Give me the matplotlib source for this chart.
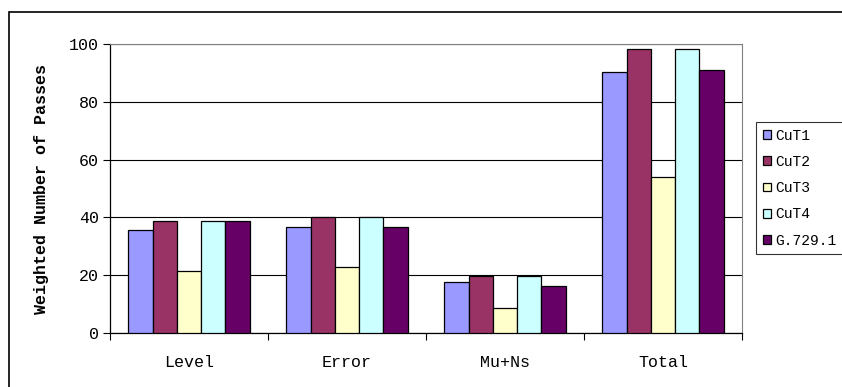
import numpy as np
import matplotlib
matplotlib.use("Agg")
import matplotlib.pyplot as plt
from matplotlib.patches import Rectangle

plt.rcParams["font.family"] = ["Liberation Mono", "DejaVu Sans Mono"]

categories = ["Level", "Error", "Mu+Ns", "Total"]
series_names = ["CuT1", "CuT2", "CuT3", "CuT4", "G.729.1"]
cut1 = [35.6, 36.6, 17.8, 90.2]
cut2 = [38.7, 40.0, 19.8, 98.3]
cut3 = [21.6, 23.0, 8.8, 54.1]
cut4 = [38.7, 40.0, 19.8, 98.3]
g7291 = [38.7, 36.6, 16.3, 91.1]
colors = ["#9999FF", "#993366", "#FFFFCC", "#CCFFFF", "#660066"]

values = [cut1, cut2, cut3, cut4, g7291]

fig = plt.figure(figsize=(8.42, 3.87), dpi=100)
# outer chart border
fig.patches.append(Rectangle((9 / 842, -0.1), 1.2, 1 - 12 / 387 + 0.1,
                             transform=fig.transFigure, fill=False,
                             edgecolor="black", linewidth=1.2))

ax = fig.add_axes([110 / 842, 1 - 333 / 387, 632 / 842, 289 / 387])

n = len(series_names)
bar_w = 1 / (n + 1.5)
x = np.arange(len(categories))
for i, (name, vals) in enumerate(zip(series_names, values)):
    offs = (i - (n - 1) / 2) * bar_w
    ax.bar(x + offs, vals, width=bar_w, color=colors[i], edgecolor="black",
           linewidth=0.9, label=name, zorder=3)

ax.set_xlim(-0.5, len(categories) - 0.5)
ax.set_ylim(0, 100)
ax.set_yticks(range(0, 101, 20))
ax.yaxis.grid(True, color="black", linewidth=0.8, zorder=0)

ax.set_xticks(x)
ax.set_xticklabels(categories, fontsize=12)
ax.set_xticks(np.arange(-0.5, len(categories)), minor=True)
ax.tick_params(axis="x", which="major", length=0, pad=16)
ax.tick_params(axis="x", which="minor", length=5, width=0.8, direction="out")
ax.tick_params(axis="y", length=5, width=0.8, labelsize=12, pad=3)

ax.spines["top"].set_color("#808080")
ax.spines["right"].set_color("#808080")
for s in ["left", "bottom"]:
    ax.spines[s].set_linewidth(0.9)

ax.set_ylabel("Weighted Number of Passes", fontsize=12, fontweight="bold",
              labelpad=14)

leg = fig.legend(loc="upper left", bbox_to_anchor=(756 / 842, 1 - 122 / 387),
                 fontsize=10.5, frameon=True, fancybox=False, edgecolor="black",
                 handlelength=0.55, handleheight=0.55, handletextpad=0.35,
                 labelspacing=0.84, borderpad=0.45, borderaxespad=0)
leg.get_frame().set_linewidth(0.8)

fig.savefig("out.png", dpi=100)
